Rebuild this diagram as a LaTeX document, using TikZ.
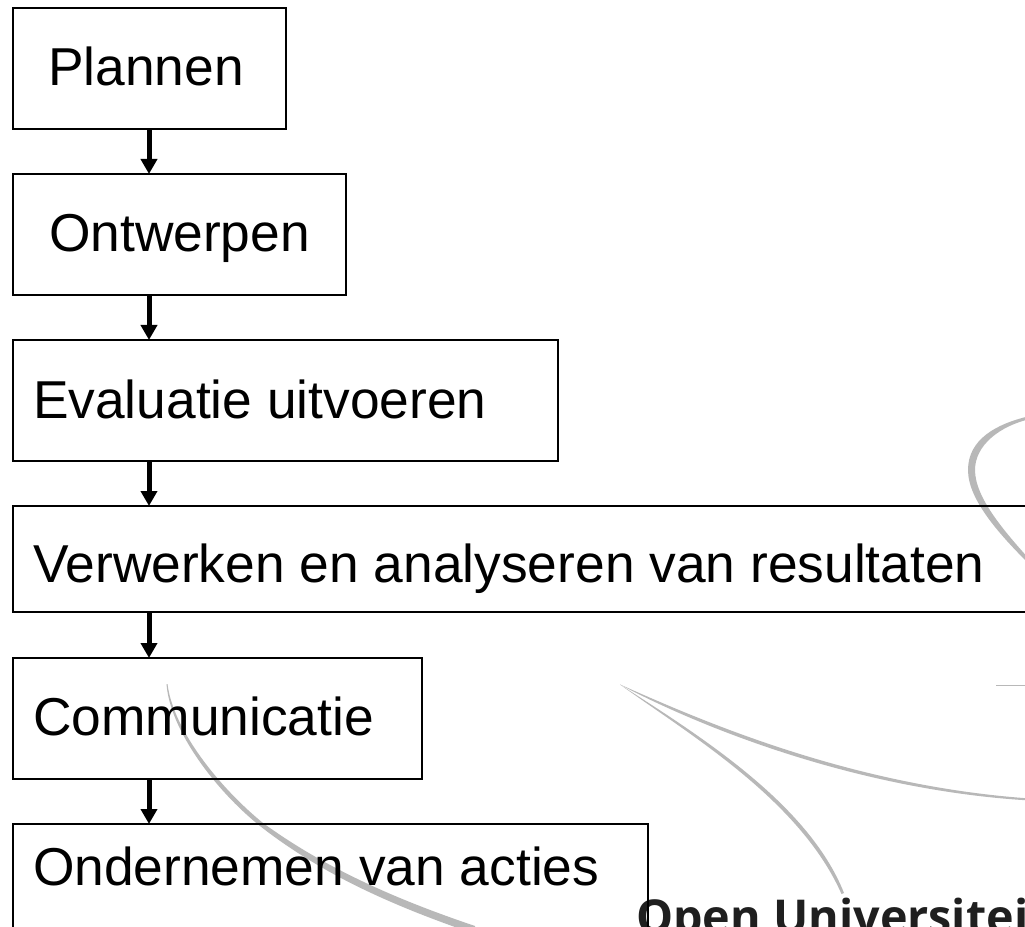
\documentclass[tikz,border=0pt]{standalone}
\usepackage{fontspec}
\usetikzlibrary{arrows.meta}
\setmainfont{Liberation Sans}
\newfontfamily\logofont{Open Sans}
\newlength{\pxu}\setlength{\pxu}{0.75pt}
\newcommand{\stagefont}{\fontsize{40}{40}\selectfont}
\newcommand{\stagespace}{\spaceskip 11.12pt\relax}
\definecolor{swooshgray}{HTML}{B8B8B8}
\definecolor{logoink}{HTML}{1F1F1F}
\tikzset{
  x=0.75pt,y=-0.75pt,
  stagebox/.style={draw=black,line width=2\pxu,rectangle,anchor=north west,inner ysep=0pt,inner xsep=20\pxu,
    font=\stagefont,execute at begin node=\stagespace,text height=78\pxu,text depth=43\pxu,outer sep=0pt},
  flow/.style={draw=black,line width=5\pxu,-{Triangle[length=11.25pt,width=12pt]}},
  swoosh/.style={fill=swooshgray,draw=none},
}
\begin{document}
\begin{tikzpicture}
\useasboundingbox (0,0) rectangle (1025,927);
\clip (0,0) rectangle (1025,927);
\fill[white] (0,0) rectangle (1025,927);
% logo behind the diagram
\fill[swoosh] (166.5,684) .. controls (170,730) and (215,790) .. (260,826) .. controls (320,873) and (390,905) .. (475,934)
  -- (475,926) .. controls (395,899) and (325,868) .. (263,823) .. controls (220,788) and (173,730) .. (167.5,684) -- cycle;
\fill[swoosh] (620,684.5) .. controls (690,722) and (850,790) .. (1030,800.5)
  -- (1030,798.5) .. controls (850,786) and (700,720) .. (620,684.5) -- cycle;
\fill[swoosh] (620,684.5) .. controls (690,735) and (800,800) .. (841.5,894)
  -- (844,893) .. controls (808,802) and (695,733) .. (620,684.5) -- cycle;
\draw[swooshgray,line width=0.75pt] (996,685) -- (1030,685);
\fill[swoosh] (1030,416) .. controls (995,424) and (968,440) .. (968,470) .. controls (968,500) and (1000,535) .. (1030,565)
  -- (1030,560) .. controls (1005,532) and (975,498) .. (975,470) .. controls (975,445) and (1000,426) .. (1030,419) -- cycle;
\node[anchor=base west,inner sep=0pt,text=logoink,font=\logofont\bfseries\fontsize{35}{35}\selectfont] (logo) at (636,933) {Open Universiteit};
% stages
\coordinate (spine) at (149,0);
\node[stagebox,text width=203\pxu,inner xsep=35\pxu,align=left] (plannen) at (13,8) {Plannen};
\node[stagebox,text width=293\pxu,align=center] (ontwerpen) at (13,174) {Ontwerpen};
\node[stagebox,text width=505\pxu,align=left] (evaluatie) at (13,340) {Evaluatie uitvoeren};
\node[stagebox,text width=977\pxu,align=left,text depth=30\pxu,text height=76\pxu] (verwerken) at (13,506) {Verwerken en analyseren van resultaten};
\node[stagebox,text width=369\pxu,align=left,text depth=44\pxu,text height=77\pxu] (communicatie) at (13,658) {Communicatie};
\node[stagebox,text width=595\pxu,align=left,text height=61\pxu,text depth=60\pxu] (acties) at (13,824) {Ondernemen van acties};
% connectors
\draw[flow] (plannen.south -| spine) -- (ontwerpen.north -| spine);
\draw[flow] (ontwerpen.south -| spine) -- (evaluatie.north -| spine);
\draw[flow] (evaluatie.south -| spine) -- (verwerken.north -| spine);
\draw[flow] (verwerken.south -| spine) -- (communicatie.north -| spine);
\draw[flow] (communicatie.south -| spine) -- (acties.north -| spine);
\end{tikzpicture}
\end{document}
